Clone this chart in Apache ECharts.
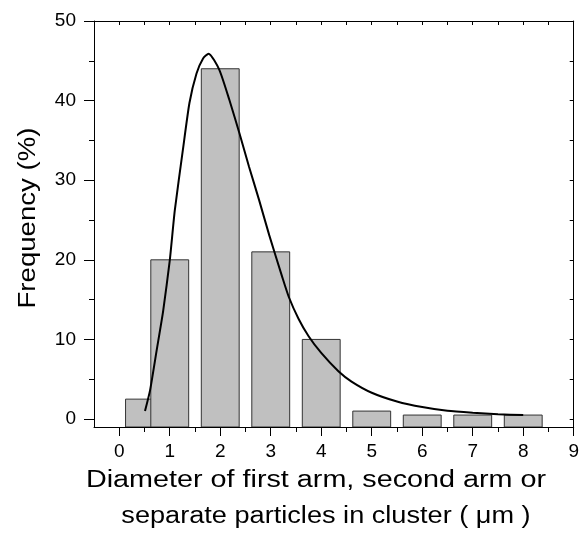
<!DOCTYPE html>
<html><head><meta charset="utf-8">
<script src="https://cdn.jsdelivr.net/npm/echarts@6/dist/echarts.min.js"></script>
<style>html,body{margin:0;padding:0;background:#fff}#c{width:582px;height:533px}</style>
</head><body><div id="c"></div>
<script>
// Data
const barX = [0.5, 1, 2, 3, 4, 5, 6, 7, 8];
const barY = [2.5, 20, 44, 21, 10, 1, 0.5, 0.5, 0.5];
const curveX = [0.51,0.61,0.74,0.87,1.0,1.10,1.26,1.39,1.53,1.66,1.77,1.98,2.18,2.38,2.57,2.77,2.97,3.23,3.36,3.55,3.75,4.0,4.34,4.6,5.0,5.5,6.0,6.5,7.0,7.5,8.0];
const curveY = [1.0,3.6,8.6,13.6,19.9,26.2,33.8,39.7,43.4,45.3,45.9,43.9,40.1,35.9,31.7,27.5,23.1,17.8,15.3,12.6,10.4,8.3,6.0,4.7,3.3,2.2,1.5,1.05,0.8,0.6,0.5];
const xTicks = [0,1,2,3,4,5,6,7,8,9];
const xMinorTicks = [0.5,1.5,2.5,3.5,4.5,5.5,6.5,7.5,8.5];
const xTopTicks = [0,0.5,1,1.5,2,2.5,3,3.5,4,4.5,5,5.5,6,6.5,7,7.5,8,8.5];
const yTicks = [0,10,20,30,40,50];
const yMinorTicks = [5,15,25,35,45];
const yRightTicks = [0,5,10,15,20,25,30,35,40,45,50];
const xTitle1 = 'Diameter of first arm, second arm or';
const xTitle2 = 'separate particles in cluster ( \u03bcm )';
const yTitle = 'Frequency (%)';
const barWidthUnits = 0.75;
const yMin = -1, yMax = 50, xMin = -0.5, xMax = 9;

const font = 'Arial, "Liberation Sans", sans-serif';
const chart = echarts.init(document.getElementById('c'), null, {renderer: 'canvas'});
const blk = {color: '#000', width: 1};
const xBase = {type: 'value', min: xMin, max: xMax, splitLine: {show: false}, minorTick:{show:false}};
const yBase = {type: 'value', min: yMin, max: yMax, splitLine: {show: false}, minorTick:{show:false}};
const lblStyle = {color: '#000', fontSize: 19, fontFamily: font};

chart.setOption({
  animation: false,
  backgroundColor: '#fff',
  grid: {left: 94, right: 5, top: 21, bottom: 106, containLabel: false},
  xAxis: [
    Object.assign({}, xBase, {position: 'bottom', axisLine: {show: true, onZero: false, lineStyle: blk},
      axisTick: {show: true, inside: false, length: 9, lineStyle: blk, customValues: xTicks},
      axisLabel: Object.assign({show: true, margin: 15, customValues: xTicks}, lblStyle)}),
    Object.assign({}, xBase, {position: 'bottom', axisLine: {show: false, onZero: false},
      axisTick: {show: true, inside: false, length: 5, lineStyle: blk, customValues: xMinorTicks},
      axisLabel: {show: false}}),
    Object.assign({}, xBase, {position: 'top', axisLine: {show: true, onZero: false, lineStyle: blk},
      axisTick: {show: true, inside: true, length: 4, lineStyle: blk, customValues: xTopTicks},
      axisLabel: {show: false}})
  ],
  yAxis: [
    Object.assign({}, yBase, {position: 'left', axisLine: {show: true, onZero: false, lineStyle: blk},
      axisTick: {show: true, inside: false, length: 10, lineStyle: blk, customValues: yTicks},
      axisLabel: Object.assign({show: true, margin: 18, customValues: yTicks}, lblStyle)}),
    Object.assign({}, yBase, {position: 'left', axisLine: {show: false, onZero: false},
      axisTick: {show: true, inside: false, length: 5, lineStyle: blk, customValues: yMinorTicks},
      axisLabel: {show: false}}),
    Object.assign({}, yBase, {position: 'right', axisLine: {show: true, onZero: false, lineStyle: blk},
      axisTick: {show: true, inside: true, length: 4, lineStyle: blk, customValues: yRightTicks},
      axisLabel: {show: false}})
  ],
  graphic: [
    {type: 'text', x: 316, y: 481, scaleX: 1.25, style: {text: xTitle1, fontSize: 23, fontFamily: font, fill: '#000', x: 0, y: 0, align: 'center', verticalAlign: 'middle'}},
    {type: 'text', x: 326, y: 517, scaleX: 1.18, style: {text: xTitle2, fontSize: 23, fontFamily: font, fill: '#000', x: 0, y: 0, align: 'center', verticalAlign: 'middle'}},
    {type: 'text', x: 29, y: 218, rotation: Math.PI / 2, scaleX: 1.2, style: {text: yTitle, fontSize: 23, fontFamily: font, fill: '#000', x: 0, y: 0, align: 'center', verticalAlign: 'middle'}}
  ],
  series: [
    {
      type: 'custom', xAxisIndex: 0, yAxisIndex: 0, clip: true,
      data: barX.map((x, i) => [x, barY[i]]),
      renderItem: function (params, api) {
        const x = api.value(0), y = api.value(1);
        const p0 = api.coord([x - barWidthUnits / 2, y]);
        const p1 = api.coord([x + barWidthUnits / 2, yMin]);
        return {type: 'rect', shape: {x: p0[0], y: p0[1], width: p1[0] - p0[0], height: p1[1] - p0[1]},
          style: {fill: '#c0c0c0', stroke: '#333', lineWidth: 1}};
      }
    },
    {
      type: 'line', xAxisIndex: 0, yAxisIndex: 0, symbol: 'none', smooth: 0.2,
      data: curveX.map((x, i) => [x, curveY[i]]),
      lineStyle: {color: '#000', width: 2}, z: 5
    }
  ]
});
</script></body></html>
